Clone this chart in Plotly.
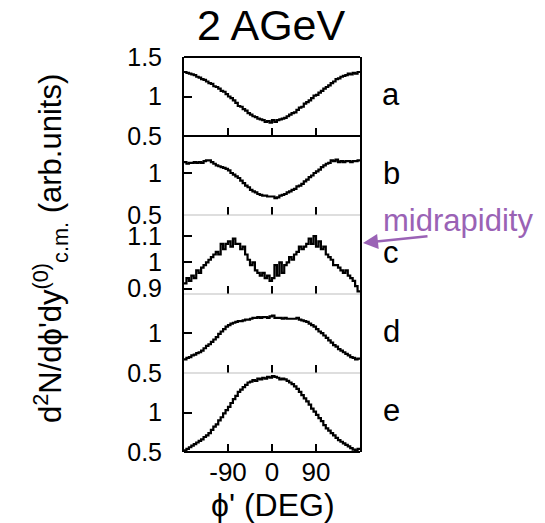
import numpy as np
import plotly.graph_objects as go

# bin edges of phi' (deg), 5-degree bins
phi_edges = list(range(-180, 181, 5))

panel_a = [1.31, 1.30, 1.29, 1.28, 1.27, 1.25, 1.24, 1.22, 1.21, 1.19, 1.17, 1.16,
           1.13, 1.12, 1.10, 1.07, 1.06, 1.03, 1.00, 0.98, 0.95, 0.92, 0.88, 0.87,
           0.84, 0.82, 0.79, 0.77, 0.75, 0.74, 0.72, 0.71, 0.70, 0.68, 0.69, 0.67,
           0.70, 0.68, 0.70, 0.71, 0.72, 0.73, 0.75, 0.77, 0.79, 0.80, 0.83, 0.86,
           0.87, 0.91, 0.93, 0.95, 0.98, 1.01, 1.02, 1.05, 1.07, 1.10, 1.12, 1.14,
           1.17, 1.19, 1.22, 1.23, 1.25, 1.26, 1.27, 1.29, 1.28, 1.30, 1.29, 1.31]

panel_b = [1.13, 1.11, 1.12, 1.12, 1.13, 1.12, 1.13, 1.12, 1.14, 1.15, 1.15, 1.13,
           1.11, 1.09, 1.08, 1.07, 1.06, 1.05, 1.03, 1.00, 0.98, 0.96, 0.94, 0.91,
           0.88, 0.85, 0.83, 0.80, 0.78, 0.77, 0.75, 0.74, 0.73, 0.73, 0.72, 0.72,
           0.72, 0.70, 0.71, 0.73, 0.74, 0.75, 0.77, 0.78, 0.80, 0.81, 0.84, 0.85,
           0.87, 0.90, 0.92, 0.95, 0.97, 1.00, 1.02, 1.04, 1.07, 1.09, 1.11, 1.12,
           1.15, 1.14, 1.16, 1.13, 1.14, 1.13, 1.14, 1.14, 1.13, 1.14, 1.14, 1.15]

panel_c = [0.92, 0.94, 0.93, 0.95, 0.94, 0.97, 0.96, 0.98, 0.99, 1.00, 1.01, 1.02,
           1.03, 1.04, 1.03, 1.07, 1.05, 1.07, 1.08, 1.06, 1.09, 1.07, 1.07, 1.05,
           1.06, 1.03, 1.01, 0.99, 1.00, 0.97, 0.96, 0.95, 0.96, 0.94, 0.95, 0.93,
           0.94, 0.99, 0.95, 1.00, 0.96, 0.99, 1.00, 1.02, 1.01, 1.03, 1.04, 1.06,
           1.05, 1.06, 1.07, 1.09, 1.07, 1.10, 1.06, 1.08, 1.05, 1.06, 1.03, 1.02,
           1.01, 0.99, 0.99, 0.98, 0.97, 0.96, 0.97, 0.95, 0.94, 0.93, 0.91, 0.89]

panel_d = [0.67, 0.69, 0.70, 0.72, 0.73, 0.75, 0.76, 0.78, 0.81, 0.84, 0.86, 0.89,
           0.92, 0.95, 0.99, 1.02, 1.05, 1.08, 1.10, 1.12, 1.13, 1.14, 1.15, 1.15,
           1.16, 1.17, 1.17, 1.18, 1.19, 1.19, 1.20, 1.19, 1.20, 1.20, 1.19, 1.21,
           1.22, 1.19, 1.19, 1.19, 1.18, 1.19, 1.18, 1.18, 1.18, 1.18, 1.19, 1.17,
           1.16, 1.15, 1.14, 1.12, 1.10, 1.08, 1.05, 1.02, 1.00, 0.97, 0.94, 0.91,
           0.88, 0.85, 0.83, 0.80, 0.78, 0.76, 0.74, 0.72, 0.70, 0.69, 0.67, 0.68]

panel_e = [0.52, 0.54, 0.56, 0.58, 0.60, 0.62, 0.64, 0.66, 0.69, 0.71, 0.74, 0.78,
           0.82, 0.85, 0.90, 0.94, 0.99, 1.03, 1.07, 1.12, 1.17, 1.21, 1.26, 1.29,
           1.32, 1.35, 1.38, 1.39, 1.41, 1.40, 1.43, 1.42, 1.44, 1.43, 1.45, 1.44,
           1.46, 1.45, 1.44, 1.42, 1.43, 1.42, 1.40, 1.38, 1.36, 1.33, 1.30, 1.26,
           1.22, 1.18, 1.14, 1.10, 1.05, 1.01, 0.97, 0.93, 0.89, 0.84, 0.80, 0.77,
           0.74, 0.71, 0.68, 0.65, 0.63, 0.61, 0.59, 0.57, 0.55, 0.53, 0.52, 0.54]

panel_names = ["a", "b", "c", "d", "e"]
panel_ranges = [[0.5, 1.5], [0.5, 1.44], [0.88, 1.18], [0.5, 1.49], [0.5, 1.5]]
panel_ticks = [[0.5, 1, 1.5], [0.5, 1], [0.9, 1, 1.1], [0.5, 1], [0.5, 1]]
panel_ticktext = [["0.5", "1", "1.5"], ["0.5", "1"], ["0.9", "1", "1.1"], ["0.5", "1"], ["0.5", "1"]]
x_ticks = [-90, 0, 90]
x_ticktext = ["-90", "0", "90"]
series = [panel_a, panel_b, panel_c, panel_d, panel_e]

FONT = "Liberation Sans, Arial, Helvetica, sans-serif"
W, H = 545, 523
ML, MR, MT, MB = 184, 185, 57, 71
PH = H - MT - MB
PW = W - ML - MR

fig = go.Figure()
layout = dict(
    width=W, height=H,
    margin=dict(l=ML, r=MR, t=MT, b=MB, pad=0),
    paper_bgcolor="white", plot_bgcolor="white",
    showlegend=False,
    font=dict(family=FONT, color="black"),
)

for i, vals in enumerate(series):
    k = i + 1
    xa = "x" if k == 1 else f"x{k}"
    ya = "y" if k == 1 else f"y{k}"
    yvals = list(vals) + [vals[-1]]
    fig.add_trace(go.Scatter(x=phi_edges, y=yvals, mode="lines",
                             line=dict(color="black", width=2.2, shape="hv"),
                             xaxis=xa, yaxis=ya, hoverinfo="skip"))
    top = 1 - 0.2 * i
    bot = top - 0.2
    xkey = "xaxis" if k == 1 else f"xaxis{k}"
    ykey = "yaxis" if k == 1 else f"yaxis{k}"
    layout[xkey] = dict(
        domain=[0, 1], anchor=ya, range=[-180, 180],
        tickvals=x_ticks, ticktext=x_ticktext,
        ticks="inside", ticklen=8, tickwidth=2, tickcolor="black",
        showticklabels=(k == 5), showgrid=False, zeroline=False, showline=False,
        tickfont=dict(size=26, family=FONT, color="black"),
        ticklabelstandoff=2,
    )
    if k != 1:
        layout[xkey]["matches"] = "x"
    layout[ykey] = dict(
        domain=[max(bot, 0), min(top, 1)], anchor=xa, range=panel_ranges[i],
        tickvals=panel_ticks[i], ticktext=panel_ticktext[i],
        ticks="inside", ticklen=8, tickwidth=2, tickcolor="black",
        showgrid=False, zeroline=False,
        showline=True, mirror=True, linecolor="black", linewidth=2,
        tickfont=dict(size=25, family=FONT, color="black"),
        ticklabelstandoff=15,
    )

fig.update_layout(**layout)

# panel separators
for yv, col, w in [(1.0, "black", 2), (0.8, "black", 2), (0.6, "#bdbdbd", 1.2),
                   (0.4, "#bdbdbd", 1.2), (0.2, "#bdbdbd", 1.2), (0.0, "black", 2)]:
    fig.add_shape(type="line", xref="paper", yref="paper", x0=0, x1=1, y0=yv, y1=yv,
                  line=dict(color=col, width=w))

# panel letters
for i, name in enumerate(panel_names):
    yc = 1 - 0.2 * i - 0.1 + 2 / PH
    fig.add_annotation(text=name, xref="paper", yref="paper",
                       x=(391 - ML) / PW, y=yc, showarrow=False,
                       xanchor="center", yanchor="middle",
                       font=dict(size=31, family=FONT, color="black"))

# title
fig.add_annotation(text="2 AGeV", xref="paper", yref="paper",
                   x=(271 - ML) / PW, y=(H - MB - 25) / PH,
                   showarrow=False, xanchor="center", yanchor="middle",
                   font=dict(size=43, family=FONT, color="black"))

# x axis title
fig.add_annotation(text="ϕ' (DEG)", xref="paper", yref="paper",
                   x=(273 - ML) / PW, y=(H - MB - 505) / PH,
                   showarrow=False, xanchor="center", yanchor="middle",
                   font=dict(size=32, family=FONT, color="black"))

# y axis title
fig.add_annotation(text="d<sup>2</sup>N/dϕ'dy<sup>(0)</sup><sub>c.m.</sub> (arb.units)",
                   xref="paper", yref="paper",
                   x=(50 - ML) / PW, y=(H - MB - 249) / PH,
                   textangle=-90, showarrow=False, xanchor="center", yanchor="middle",
                   font=dict(size=31, family=FONT, color="black"))

# midrapidity annotation
PURPLE = "#9a62b5"
fig.add_annotation(text="midrapidity", xref="paper", yref="paper",
                   x=(458 - ML) / PW, y=(H - MB - 220) / PH,
                   showarrow=False, xanchor="center", yanchor="middle",
                   font=dict(size=31, family=FONT, color=PURPLE))
fig.add_annotation(text="", xref="paper", yref="paper",
                   x=(363 - ML) / PW, y=(H - MB - 243) / PH,
                   ax=66, ay=-7, axref="pixel", ayref="pixel",
                   showarrow=True, arrowhead=2, arrowsize=1.2, arrowwidth=2.5,
                   arrowcolor=PURPLE)

fig.write_html("out.html")
